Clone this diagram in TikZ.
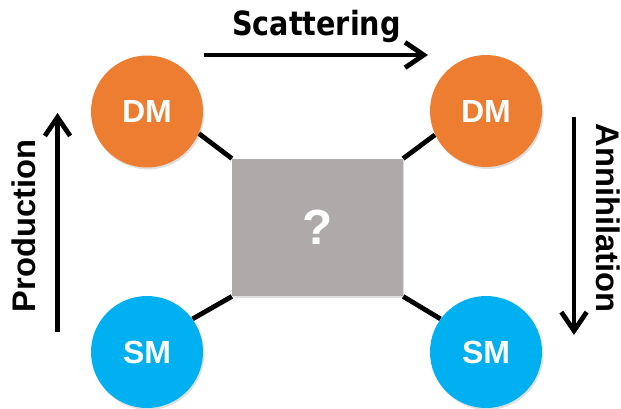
\documentclass[tikz,border=0pt]{standalone}
\usepackage{fontspec}
\setmainfont{Liberation Sans}
\newfontfamily\headfont{DejaVu Sans}
\usepackage{xcolor}
\usepackage{graphicx}
\usetikzlibrary{arrows.meta, shadows, backgrounds}
\definecolor{dmorange}{HTML}{ED7D31}
\definecolor{smblue}{HTML}{00B0F0}
\definecolor{boxgray}{HTML}{AEAAAA}

\begin{document}
\begin{tikzpicture}[x=0.75pt, y=0.75pt,
    particle/.style={circle, minimum size=84pt, inner sep=0pt,
      text=white, font=\fontsize{24}{28}\selectfont\bfseries,
      drop shadow={opacity=0.25, shadow xshift=1pt, shadow yshift=-1.5pt}},
    link/.style={line width=3.6pt},
    flow/.style={line width=3.6pt,
      -{Straight Barb[length=14pt, width=19pt]}},
    proc/.style={font=\fontsize{24.5}{28}\selectfont\bfseries, inner sep=0pt},
]
\useasboundingbox (0,0) rectangle (621,408);

% Particles
\node[particle, fill=dmorange] (dmL) at (147,296.5) {DM};
\node[particle, fill=dmorange] (dmR) at (486,297) {DM};
\node[particle, fill=smblue]   (smL) at (147,56) {SM};
\node[particle, fill=smblue]   (smR) at (486,56) {SM};

% Unknown interaction
\node[fill=boxgray, minimum width=128pt, minimum height=103pt,
  inner sep=0pt, text=white, font=\fontsize{37}{40}\selectfont\bfseries,
  drop shadow={opacity=0.25, shadow xshift=0.8pt, shadow yshift=-1.2pt}]
  (blob) at (317.5,180.5) {?};

% Legs
\begin{scope}[on background layer]
\draw[link] (blob.north west) -- (dmL.-23);
\draw[link] (blob.north east) -- (dmR.205);
\draw[link] (blob.south west) -- (smL.36);
\draw[link] (blob.south east) -- (smR.144);
\end{scope}

% Processes
\coordinate (scatA) at (204,353);
\coordinate (scatB) at (428,353);
\draw[flow] (scatA) -- (scatB);
\node[font=\headfont\fontsize{25}{28}\selectfont\bfseries,
  anchor=base, inner sep=0pt] (scat) at (316.5,372)
  {\scalebox{0.86}[1]{Scattering}};

\coordinate (prodA) at (57.5,76);
\coordinate (prodB) at (57.5,295);
\draw[flow] (prodA) -- (prodB);
\node[proc, rotate=90, anchor=base] (prod) at (35.6,182) {Production};

\coordinate (annA) at (574,291);
\coordinate (annB) at (574,73);
\draw[flow] (annA) -- (annB);
\node[proc, rotate=-90, anchor=base] (ann) at (596.5,190) {Annihilation};

\end{tikzpicture}
\end{document}
